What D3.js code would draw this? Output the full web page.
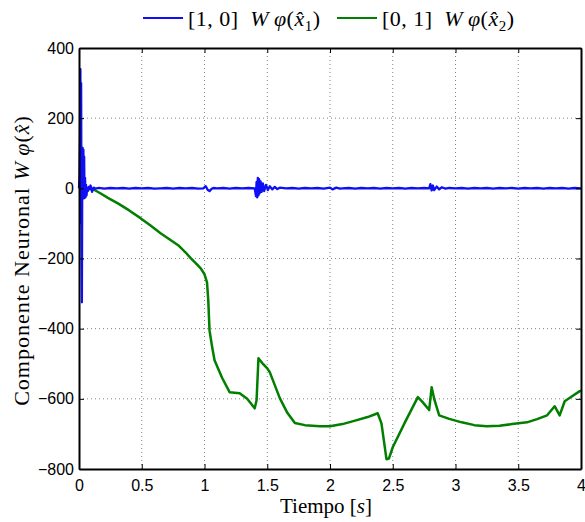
<!DOCTYPE html>
<html>
<head>
<meta charset="utf-8">
<script src="https://cdn.jsdelivr.net/npm/d3@7"></script>
<style>
  body { margin: 0; background: #fff; }
  .tick text { font-family: "Liberation Sans", Arial, sans-serif; font-size: 16px; fill: #000; }
  .serif { font-family: "Liberation Serif", "Times New Roman", serif; }
</style>
</head>
<body>
<div id="chart"></div>
<script>
// tick labels
const xTicks = [0, 0.5, 1, 1.5, 2, 2.5, 3, 3.5, 4];
const yTicks = [-800, -600, -400, -200, 0, 200, 400];

// series 1: [1,0] W phi(x1) -- [time, value]
const blueSeries = [
  [0, 0], [0.004, 40], [0.008, 150], [0.011, 340], [0.014, -100], [0.017, 300],
  [0.020, -160], [0.023, -325], [0.026, 60], [0.029, 115], [0.032, -30],
  [0.035, 110], [0.038, -25], [0.041, 90], [0.044, -28], [0.048, 30],
  [0.052, -25], [0.056, 10], [0.060, -20], [0.065, 2], [0.070, -8],
  [0.078, 4], [0.085, -3], [0.092, 8], [0.098, 2], [0.104, -10], [0.110, -4],
  [0.118, 2], [0.13, -1], [0.16, 1], [0.2, -1], [0.25, 1], [0.3, 0],
  [0.35, 1], [0.4, -1], [0.45, 1], [0.5, 0], [0.55, 1], [0.6, -1],
  [0.65, 0], [0.7, 1], [0.75, -1], [0.8, 1], [0.85, 0], [0.9, 1],
  [0.95, -1], [0.99, 0], [1.01, 6], [1.025, -4], [1.04, -8], [1.055, -2],
  [1.07, 1], [1.1, 0], [1.15, 1], [1.2, -1], [1.25, 1], [1.3, 0],
  [1.35, 1], [1.40, 0], [1.41, -22], [1.415, 18], [1.42, -26], [1.425, 30],
  [1.43, -20], [1.435, 26], [1.44, -14], [1.447, 20], [1.455, -10],
  [1.465, 14], [1.475, -8], [1.49, 10], [1.505, -5], [1.52, 6],
  [1.54, -3], [1.56, 4], [1.58, -2], [1.60, 2], [1.65, 0], [1.7, 1],
  [1.75, -1], [1.8, 1], [1.85, 0], [1.9, 1], [1.95, -1], [2.0, 2],
  [2.02, -3], [2.05, 2], [2.08, -1], [2.1, 0], [2.15, 1], [2.2, -1],
  [2.25, 1], [2.3, 0], [2.35, 1], [2.4, -1], [2.45, 1], [2.5, 0],
  [2.55, 1], [2.6, -1], [2.65, 1], [2.7, 0], [2.75, 1], [2.79, 0],
  [2.80, 12], [2.81, -6], [2.82, 8], [2.83, -5], [2.85, 5], [2.87, -3],
  [2.89, 3], [2.92, -1], [2.95, 1], [3.0, 0], [3.05, 1], [3.1, -1],
  [3.15, 1], [3.2, 0], [3.25, 1], [3.3, -1], [3.35, 1], [3.4, 0],
  [3.45, 1], [3.5, -1], [3.55, 1], [3.6, 0], [3.65, 1], [3.7, -1],
  [3.75, 1], [3.8, 0], [3.85, 1], [3.9, -1], [3.95, 1], [4.0, 0]
];

// series 2: [0,1] W phi(x2) -- [time, value]
const greenSeries = [
  [0, -2], [0.04, -1], [0.08, 1], [0.12, -4], [0.17, -14], [0.23, -27], [0.31, -43],
  [0.40, -63], [0.49, -85], [0.57, -106], [0.65, -128], [0.72, -145],
  [0.79, -162], [0.85, -183], [0.89, -199], [0.93, -213], [0.97, -228],
  [1.0, -245], [1.02, -268], [1.03, -319], [1.04, -405], [1.06, -450],
  [1.08, -490], [1.14, -540], [1.20, -581], [1.28, -584], [1.34, -600],
  [1.40, -627], [1.415, -604], [1.43, -484], [1.46, -498], [1.50, -513],
  [1.52, -524], [1.60, -598], [1.66, -640], [1.72, -669], [1.80, -675],
  [1.92, -678], [2.0, -678], [2.10, -672], [2.20, -662], [2.30, -652],
  [2.38, -641], [2.41, -670], [2.45, -772], [2.47, -770], [2.50, -738],
  [2.60, -665], [2.70, -595], [2.74, -610], [2.79, -632], [2.81, -567],
  [2.83, -600], [2.87, -647], [2.95, -657], [3.05, -667], [3.15, -675],
  [3.25, -678], [3.35, -677], [3.45, -672], [3.57, -667], [3.65, -658],
  [3.73, -647], [3.79, -621], [3.83, -647], [3.87, -607], [3.92, -595],
  [3.99, -578], [4.0, -577]
];

const W = 585, H = 522;
const margin = {top: 48, right: 4, bottom: 53, left: 79};
const width = W - margin.left - margin.right;
const height = H - margin.top - margin.bottom;

const svg = d3.select("#chart").append("svg")
  .attr("width", W).attr("height", H);
const g = svg.append("g")
  .attr("transform", `translate(${margin.left},${margin.top})`);

const x = d3.scaleLinear().domain([0, 4]).range([0, width]);
const y = d3.scaleLinear().domain([-800, 400]).range([height, 0]);

// gridlines (dotted)
g.append("g")
  .selectAll("line").data(xTicks.slice(1, -1)).join("line")
  .attr("x1", d => x(d)).attr("x2", d => x(d))
  .attr("y1", 0).attr("y2", height)
  .attr("stroke", "#333").attr("stroke-width", 1)
  .attr("stroke-dasharray", "1,3").attr("opacity", 0.6);
g.append("g")
  .selectAll("line").data(yTicks.slice(1, -1)).join("line")
  .attr("x1", 0).attr("x2", width)
  .attr("y1", d => y(d)).attr("y2", d => y(d))
  .attr("stroke", "#333").attr("stroke-width", 1)
  .attr("stroke-dasharray", "1,3").attr("opacity", 0.6);

// lines
const line = d3.line().x(d => x(d[0])).y(d => y(d[1]));
g.append("path").datum(greenSeries)
  .attr("fill", "none").attr("stroke", "#007f00").attr("stroke-width", 2.5)
  .attr("stroke-linejoin", "round").attr("d", line);
g.append("path").datum(blueSeries)
  .attr("fill", "none").attr("stroke", "#0f0ff5").attr("stroke-width", 2.3)
  .attr("stroke-linejoin", "round").attr("d", line);

// axes (ticks inward, MATLAB box)
g.append("g").attr("transform", `translate(0,${height})`)
  .call(d3.axisBottom(x).tickValues(xTicks).tickSizeInner(-5).tickSizeOuter(0).tickPadding(11)
    .tickFormat(d3.format("")));
g.append("g")
  .call(d3.axisLeft(y).tickValues(yTicks).tickSizeInner(-5).tickSizeOuter(0).tickPadding(5));
g.append("g")
  .call(d3.axisTop(x).tickValues(xTicks).tickSizeInner(-5).tickSizeOuter(0).tickFormat(""));
g.append("g").attr("transform", `translate(${width},0)`)
  .call(d3.axisRight(y).tickValues(yTicks).tickSizeInner(-5).tickSizeOuter(0).tickFormat(""));
g.selectAll(".domain").attr("stroke", "#000").attr("stroke-width", 2);
g.selectAll(".tick line").attr("stroke", "#000");

// axis labels
const xl = svg.append("text").attr("class", "serif")
  .attr("x", margin.left + width / 2 - 4).attr("y", 513)
  .attr("text-anchor", "middle").style("font-size", "21px");
xl.append("tspan").text("Tiempo [");
xl.append("tspan").style("font-style", "italic").text("s");
xl.append("tspan").text("]");

const yl = svg.append("text").attr("class", "serif")
  .attr("transform", `translate(29,${margin.top + height / 2 + 2}) rotate(-90)`)
  .attr("text-anchor", "middle").style("font-size", "22px")
  .style("letter-spacing", "1px");
yl.append("tspan").text("Componente Neuronal ");
yl.append("tspan").style("font-style", "italic").text("W\u2009\u03c6");
yl.append("tspan").text("(");
yl.append("tspan").style("font-style", "italic").text("x\u0302");
yl.append("tspan").text(")");

// legend
const legend = [
  {label: "[1, 0]", sub: "1", color: "#0f0ff5", x: 143},
  {label: "[0, 1]", sub: "2", color: "#007f00", x: 337}
];
legend.forEach(d => {
  svg.append("line").attr("x1", d.x).attr("x2", d.x + 40)
    .attr("y1", 18).attr("y2", 18)
    .attr("stroke", d.color).attr("stroke-width", 2);
  const t = svg.append("text").attr("class", "serif")
    .attr("x", d.x + 45).attr("y", 26).style("font-size", "22px")
    .style("letter-spacing", "0.5px");
  t.append("tspan").text(d.label + "\u2002");
  t.append("tspan").style("font-style", "italic").text("W\u2009\u03c6");
  t.append("tspan").text("(");
  t.append("tspan").style("font-style", "italic").text("x\u0302");
  t.append("tspan").attr("dy", 5).style("font-size", "15px").text(d.sub);
  t.append("tspan").attr("dy", -5).text(")");
});
</script>
</body>
</html>
